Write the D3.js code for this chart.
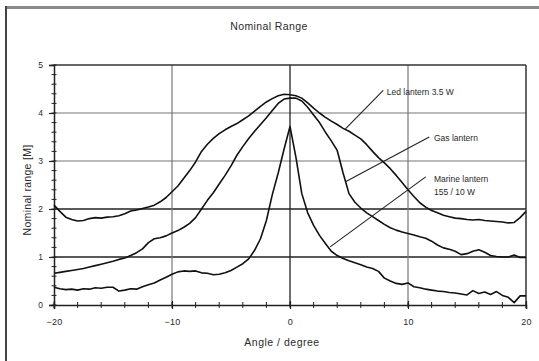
<!DOCTYPE html>
<html>
<head>
<meta charset="utf-8">
<script src="https://cdn.jsdelivr.net/npm/d3@7/dist/d3.min.js"></script>
<style>
  html, body { margin: 0; padding: 0; background: #fff; }
  svg { display: block; }
  text { font-family: "Liberation Sans", Arial, sans-serif; fill: #2a2a2a; }
</style>
</head>
<body>
<svg id="chart" width="539" height="361"></svg>
<script>
// Viewing angle in degrees, sampled every half degree
const angles = [
  -20, -19.5, -19, -18.5, -18, -17.5, -17, -16.5, -16, -15.5,
  -15, -14.5, -14, -13.5, -13, -12.5, -12, -11.5, -11, -10.5,
  -10, -9.5, -9, -8.5, -8, -7.5, -7, -6.5, -6, -5.5,
  -5, -4.5, -4, -3.5, -3, -2.5, -2, -1.5, -1, -0.5,
  0, 0.5, 1, 1.5, 2, 2.5, 3, 3.5, 4, 4.5,
  5, 5.5, 6, 6.5, 7, 7.5, 8, 8.5, 9, 9.5,
  10, 10.5, 11, 11.5, 12, 12.5, 13, 13.5, 14, 14.5,
  15, 15.5, 16, 16.5, 17, 17.5, 18, 18.5, 19, 19.5, 20
];

// Nominal range [M] per lantern
const ledLantern = [
  2.08, 1.95, 1.83, 1.78, 1.75, 1.76, 1.80, 1.82, 1.81, 1.83,
  1.84, 1.86, 1.90, 1.96, 1.98, 2.01, 2.04, 2.08, 2.15, 2.24,
  2.36, 2.48, 2.64, 2.80, 2.98, 3.20, 3.35, 3.47, 3.57, 3.65,
  3.72, 3.78, 3.86, 3.94, 4.04, 4.14, 4.23, 4.30, 4.36, 4.39,
  4.38, 4.36, 4.31, 4.21, 4.10, 4.00, 3.91, 3.83, 3.76, 3.68,
  3.62, 3.54, 3.46, 3.34, 3.20, 3.07, 2.96, 2.84, 2.70, 2.55,
  2.40, 2.26, 2.13, 2.04, 1.97, 1.92, 1.87, 1.84, 1.81, 1.80,
  1.78, 1.77, 1.78, 1.76, 1.75, 1.74, 1.73, 1.71, 1.72, 1.82, 1.95
];

const gasLantern = [
  0.66, 0.68, 0.70, 0.72, 0.74, 0.76, 0.79, 0.82, 0.85, 0.88,
  0.91, 0.95, 0.98, 1.03, 1.09, 1.17, 1.30, 1.38, 1.40, 1.44,
  1.50, 1.55, 1.62, 1.70, 1.82, 2.00, 2.18, 2.34, 2.52, 2.70,
  2.90, 3.12, 3.30, 3.47, 3.62, 3.76, 3.90, 4.05, 4.20, 4.29,
  4.31, 4.31, 4.25, 4.12, 3.96, 3.80, 3.60, 3.42, 3.22, 2.75,
  2.32, 2.14, 2.02, 1.92, 1.84, 1.76, 1.68, 1.61, 1.56, 1.52,
  1.49, 1.46, 1.42, 1.39, 1.33, 1.25, 1.19, 1.16, 1.12, 1.05,
  1.07, 1.12, 1.15, 1.10, 1.03, 1.01, 1.00, 1.00, 1.04, 0.99, 0.99
];

const marineLantern = [
  0.37, 0.34, 0.32, 0.33, 0.31, 0.34, 0.33, 0.36, 0.35, 0.37,
  0.37, 0.29, 0.31, 0.34, 0.33, 0.38, 0.42, 0.46, 0.52, 0.58,
  0.64, 0.69, 0.71, 0.70, 0.71, 0.67, 0.66, 0.63, 0.64, 0.67,
  0.72, 0.79, 0.86, 0.96, 1.14, 1.38, 1.76, 2.30, 2.75, 3.25,
  3.72, 3.08, 2.32, 1.92, 1.66, 1.45, 1.28, 1.12, 1.03, 0.97,
  0.92, 0.88, 0.84, 0.79, 0.76, 0.70, 0.56, 0.50, 0.45, 0.43,
  0.46, 0.38, 0.36, 0.33, 0.31, 0.29, 0.28, 0.26, 0.25, 0.23,
  0.21, 0.30, 0.24, 0.27, 0.22, 0.28, 0.20, 0.16, 0.05, 0.19, 0.19
];

const xTicks = [-20, -10, 0, 10, 20];
const yTicks = [0, 1, 2, 3, 4, 5];

// Callout labels: text lines, anchor point on the curve [angle, range],
// and where the leader line meets the label [angle, range]
const callouts = [
  { lines: ["Led lantern 3.5 W"], curve: [4.7, 3.67], end: [7.9, 4.47], text: [8.2, 4.43] },
  { lines: ["Gas lantern"], curve: [4.7, 2.57], end: [11.8, 3.5], text: [12.2, 3.48] },
  { lines: ["Marine lantern", "155 / 10 W"], curve: [3.4, 1.21], end: [11.5, 2.67], text: [12.2, 2.62] }
];

const svg = d3.select("#chart");
const margin = { left: 54, right: 13, top: 65, bottom: 56 };
const W = 539, H = 361;
const FONT = "Liberation Sans, Arial, sans-serif";

const x = d3.scaleLinear().domain([-20, 20]).range([margin.left, W - margin.right]);
const y = d3.scaleLinear().domain([0, 5]).range([H - margin.bottom, margin.top]);

// Outer frame (top and left edges)
svg.append("line").attr("x1", 5).attr("x2", W).attr("y1", 7.5).attr("y2", 7.5)
  .attr("stroke", "#8a8a8a").attr("stroke-width", 3);
svg.append("line").attr("x1", 6).attr("x2", 6).attr("y1", 6).attr("y2", H)
  .attr("stroke", "#444").attr("stroke-width", 2);

// Title
svg.append("text").attr("x", 269).attr("y", 29.5).attr("text-anchor", "middle")
  .attr("font-size", 10.5).attr("letter-spacing", 0.4).text("Nominal Range");

// Grid lines
const grid = svg.append("g");
grid.selectAll("line.h").data([1, 2, 3, 4]).join("line")
  .attr("x1", x(-20)).attr("x2", x(20))
  .attr("y1", d => y(d)).attr("y2", d => y(d))
  .attr("stroke", d => d <= 2 ? "#222" : "#777")
  .attr("stroke-width", d => d <= 2 ? 1.3 : 1.2);
grid.selectAll("line.v").data([-10, 0, 10]).join("line")
  .attr("x1", d => x(d)).attr("x2", d => x(d))
  .attr("y1", y(0)).attr("y2", y(5))
  .attr("stroke", d => d === 0 ? "#222" : "#777")
  .attr("stroke-width", d => d === 0 ? 1.3 : 1.2);

// Plot frame: top and right edges
svg.append("line").attr("x1", x(-20)).attr("x2", x(20)).attr("y1", y(5)).attr("y2", y(5))
  .attr("stroke", "#333").attr("stroke-width", 1.5);
svg.append("line").attr("x1", x(20)).attr("x2", x(20)).attr("y1", y(5)).attr("y2", y(0))
  .attr("stroke", "#333").attr("stroke-width", 1.5);

// Left axis: major ticks with labels plus minor ticks every 0.2
const yAxis = svg.append("g").attr("transform", `translate(${x(-20)},0)`)
  .call(d3.axisLeft(y).tickValues(yTicks).tickSize(5).tickPadding(6).tickFormat(d3.format("d")));
yAxis.select(".domain").attr("stroke", "#222").attr("stroke-width", 1.5);
yAxis.selectAll(".tick line").attr("stroke", "#222").attr("stroke-width", 1.2);
yAxis.selectAll(".tick text").attr("font-size", 8.5).attr("fill", "#2a2a2a")
  .attr("font-family", FONT);
const yMinor = d3.range(0, 5.0001, 0.2).map(v => Math.round(v * 10) / 10);
svg.append("g").selectAll("line").data(yMinor).join("line")
  .attr("x1", x(-20) - 2.5).attr("x2", x(-20) + 2.5)
  .attr("y1", d => y(d)).attr("y2", d => y(d))
  .attr("stroke", "#222").attr("stroke-width", 1);

// Bottom axis: major ticks with labels plus minor ticks every 2 degrees
const xAxis = svg.append("g").attr("transform", `translate(0,${y(0)})`)
  .call(d3.axisBottom(x).tickValues(xTicks).tickSize(4).tickPadding(9.5).tickFormat(d3.format("d")));
xAxis.select(".domain").attr("stroke", "#222").attr("stroke-width", 1.5);
xAxis.selectAll(".tick line").attr("stroke", "#222").attr("stroke-width", 1.2).attr("y1", -4);
xAxis.selectAll(".tick text").attr("font-size", 9).attr("fill", "#2a2a2a")
  .attr("font-family", FONT).attr("letter-spacing", 0.3);
const xMinor = d3.range(-20, 20.001, 2);
svg.append("g").selectAll("line").data(xMinor).join("line")
  .attr("x1", d => x(d)).attr("x2", d => x(d))
  .attr("y1", y(0) - 3).attr("y2", y(0) + 3)
  .attr("stroke", "#222").attr("stroke-width", 1);

// Axis titles
svg.append("text").attr("transform", `translate(31,190) rotate(-90)`)
  .attr("text-anchor", "middle").attr("font-size", 10.5).attr("letter-spacing", 0.3)
  .text("Nominal range [M]");
svg.append("text").attr("x", 282).attr("y", 345.5).attr("text-anchor", "middle")
  .attr("font-size", 10.5).attr("letter-spacing", 0.5).text("Angle / degree");

// Measured curves
const line = d3.line().x(d => x(d[0])).y(d => y(d[1])).curve(d3.curveLinear);
[ledLantern, gasLantern, marineLantern].forEach(series => {
  svg.append("path")
    .datum(angles.map((a, i) => [a, series[i]]))
    .attr("d", line)
    .attr("fill", "none")
    .attr("stroke", "#111")
    .attr("stroke-width", 1.6)
    .attr("stroke-linejoin", "round");
});

// Callouts with leader lines
callouts.forEach(c => {
  svg.append("line")
    .attr("x1", x(c.curve[0])).attr("y1", y(c.curve[1]))
    .attr("x2", x(c.end[0])).attr("y2", y(c.end[1]))
    .attr("stroke", "#222").attr("stroke-width", 1.1);
  const t = svg.append("text").attr("x", x(c.text[0])).attr("y", y(c.text[1]) + 3)
    .attr("font-size", 8.5);
  c.lines.forEach((s, i) => {
    t.append("tspan").attr("x", x(c.text[0])).attr("dy", i === 0 ? 0 : 13).text(s);
  });
});
</script>
</body>
</html>
